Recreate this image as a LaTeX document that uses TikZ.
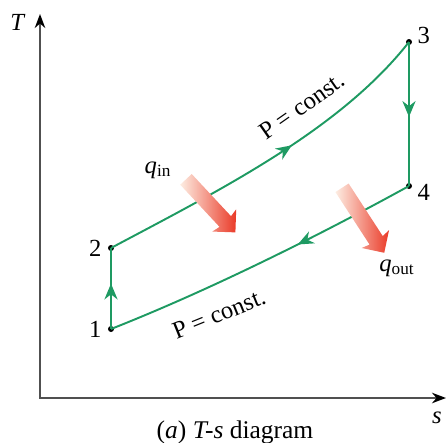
\documentclass[tikz,border=0pt]{standalone}
\usepackage{fontspec}
\setmainfont{Liberation Serif}
\usepackage{tikz}
\usetikzlibrary{arrows.meta,positioning,shapes.arrows,decorations.markings}
\definecolor{CycleGreen}{HTML}{1E9A62}
\definecolor{AxisGray}{HTML}{505050}
\definecolor{HeatLight}{HTML}{FDEDE2}
\definecolor{HeatRed}{HTML}{EA3A28}
\newcommand{\heatlbl}[1]{\textit{q}\textsubscript{#1}}

\begin{document}
\begin{tikzpicture}[x=0.02cm, y=-0.02cm,
  every node/.style={font=\fontsize{14}{16}\selectfont},
  pt/.style={circle, fill=black, inner sep=0pt, minimum size=0.12cm},
  proc/.style={draw=CycleGreen, line width=1.1pt},
  midarrow/.style={postaction={decorate, decoration={markings,
      mark=at position #1 with {\arrow[CycleGreen]{Stealth[length=9pt,width=7.5pt]}}}}},
  heat/.style={single arrow, draw=none, inner sep=0.15cm, minimum height=1.45cm,
      single arrow head extend=0.17cm, single arrow head indent=0.03cm,
      left color=HeatLight, right color=HeatRed},
  >=Stealth]
  \useasboundingbox (0,0) rectangle (447,443);
  % axes
  \coordinate (O) at (40,398);
  \coordinate (Ttop) at (40,14);
  \coordinate (sright) at (446,398);
  \draw[AxisGray, line width=1pt, {Stealth[black,length=8pt,width=6pt]}-{Stealth[black,length=8pt,width=6pt]}]
    (Ttop) |- (sright);
  \node (Tlbl) at (18,22) {\textit{T}};
  \node (slbl) at (437,418) {\textit{s}};
  % states
  \node[pt] (p1) at (111,329) {};
  \node[pt] (p2) at (111,248) {};
  \node[pt] (p3) at (409,42) {};
  \node[pt] (p4) at (409,186) {};
  \node[left=0pt of p1] (l1) {1};
  \node[left=0pt of p2] (l2) {2};
  \node[above right=-6pt and 0pt of p3] (l3) {3};
  \node[below right=-6pt and 0pt of p4] (l4) {4};
  % processes
  \draw[proc, midarrow=0.56] (p1.center) -- (p2.center);
  \draw[proc, midarrow=0.57] (p2.center) .. controls (220,190) and (340,130) .. (p3.center);
  \draw[proc, midarrow=0.52] (p3.center) -- (p4.center);
  \draw[proc, midarrow=0.38] (p4.center) .. controls (320,235) and (210,290) .. (p1.center);
  \node[rotate=35] (Phigh) at (302,106) {P = const.};
  \node[rotate=22] (Plow) at (219,314) {P = const.};
  % heat
  \node[heat, rotate=-47] (qinarrow) at (208,203) {};
  \node[heat, rotate=-57, minimum height=1.55cm] (qoutarrow) at (361,217) {};
  \node (qin) at (158,170) {\heatlbl{in}};
  \node (qout) at (397,268) {\heatlbl{out}};
  \node[font=\fontsize{14.5}{16}\selectfont] (caption) at (235,432) {(\textit{a}) \textit{T-s} diagram};
\end{tikzpicture}
\end{document}
